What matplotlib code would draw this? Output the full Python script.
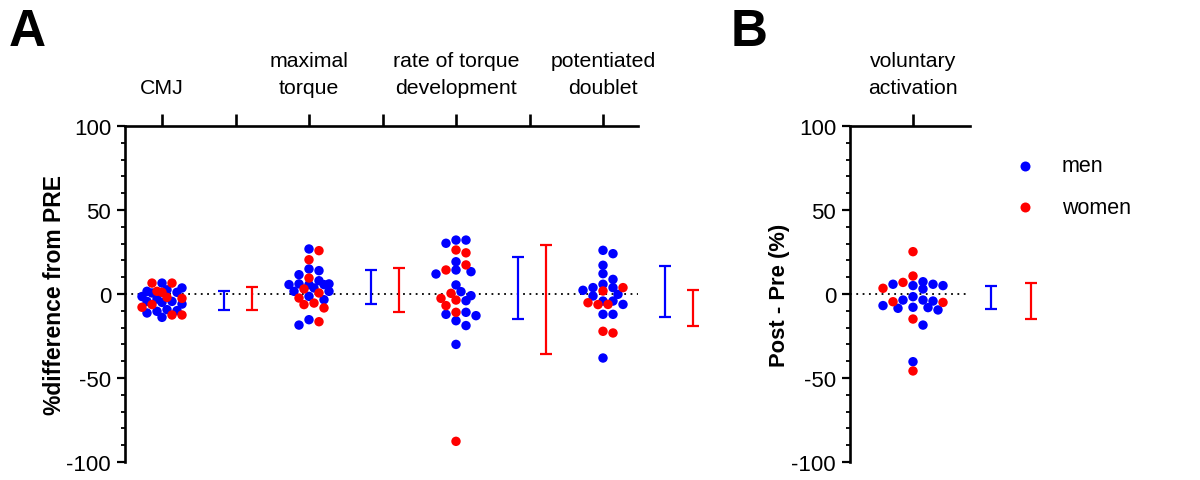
import matplotlib
matplotlib.use('Agg')
import matplotlib.pyplot as plt
from matplotlib.lines import Line2D
import numpy as np

plt.rcParams['font.family'] = ['Liberation Sans', 'DejaVu Sans']
plt.rcParams['axes.unicode_minus'] = False

# ---------------- data ----------------
categories = ['CMJ', 'maximal\ntorque', 'rate of torque\ndevelopment', 'potentiated\ndoublet']
category_b = ['voluntary\nactivation']

men_cmj = [6.5, 3.6, 0.6, 1.0, 1.6, 2.5, -1.5, -3.0, -4.4, -5.0, -4.4, -6.0, -9.3, -10.3, -9.9, -11.3, -13.9]
women_cmj = [6.5, 6.5, 1.6, 1.0, -2.6, -2.0, -6.3, -7.9, -12.5, -12.5]

men_mt = [26.8, 13.9, 14.9, 11.5, 5.6, 5.6, 6.0, 6.0, 5.6, 7.9, 1.6, 3.6, 1.6, -3.4, -1.4, -15.3, -18.5]
women_mt = [25.8, 20.4, 9.5, 3.0, 0.6, -6.3, -8.3, -5.4, -2.4, -16.5]

men_rtd = [32.1, 30.2, 32.1, 19.2, 11.9, 13.3, 14.3, 5.4, 1.4, -1.0, -4.0, -12.9, -12.1, -10.9, -15.9, -18.8, -30.0]
women_rtd = [26.2, 24.5, 17.3, 14.3, 0.4, -2.6, -3.6, -6.9, -10.9, -87.7]

men_pd = [26.0, 24.0, 17.1, 12.1, 8.7, 5.8, 3.8, 3.8, 2.2, -1.2, -0.2, -4.2, -4.2, -6.2, -12.1, -12.1, -38.1]
women_pd = [1.8, 3.8, -6.2, -5.2, -6.3, -22.2, -23.2]

men_va = [7.3, 5.8, 5.0, 5.0, 3.0, 5.8, -1.6, -3.6, -3.6, -4.2, -6.9, -8.1, -9.5, -8.5, -7.9, -18.5, -40.3]
women_va = [25.2, 10.7, 6.9, 3.4, -4.6, -5.0, -14.9, -45.8]

# mean and SD shown by the error bars
men_mean = [-3.7, 4.25, 3.75, 1.6]
men_sd = [5.65, 10.25, 18.45, 15.1]
women_mean = [-2.55, 2.3, -3.15, -8.2]
women_sd = [6.75, 13.2, 32.55, 10.8]
men_mean_va, men_sd_va = -1.95, 6.75
women_mean_va, women_sd_va = -4.15, 10.85

yticks = [-100, -50, 0, 50, 100]

# ---------------- layout ----------------
W, H = 1200, 481
PX_X = 147.0      # pixels per category unit
PX_Y = 1.68       # pixels per % unit
BLUE = '#0000FF'
RED = '#FF0000'
fig = plt.figure(figsize=(W / 100, H / 100), dpi=100)


def axes_px(x0, x1, y_top, y_bot):
    return fig.add_axes([x0 / W, 1 - y_bot / H, (x1 - x0) / W, (y_bot - y_top) / H])


axA = axes_px(125, 720, 127, 463)
axB = axes_px(850, 1060, 127, 463)


def swarm(vals_m, vals_w, step=5.0, mind=8.0, maxoff=20.0):
    vals = np.concatenate([np.asarray(vals_m, float), np.asarray(vals_w, float)])
    order = np.argsort(-vals)
    placed = []
    offs = np.zeros(len(vals))
    nmax = int(maxoff / step)
    cands = [0.0] + [s * step * j for j in range(1, nmax + 1) for s in (1, -1)]
    for i in order:
        y = vals[i] * PX_Y
        best, bestd = None, -1
        for c in cands:
            d = min([np.hypot(c - px, y - py) for px, py in placed] + [1e9])
            if d >= mind:
                best = c
                break
            if d > bestd:
                best, bestd = c, d
        placed.append((best, y))
        offs[i] = best
    n = len(vals_m)
    return offs[:n] / PX_X, offs[n:] / PX_X


def style_axis(ax, xl, xr, spine_end):
    ax.set_xlim(xl, xr)
    ax.set_ylim(-100, 100)
    for s in ['bottom', 'right']:
        ax.spines[s].set_visible(False)
    ax.spines['top'].set_bounds(xl, spine_end)
    for s in ['top', 'left']:
        ax.spines[s].set_linewidth(1.9)
    ax.xaxis.set_ticks_position('top')
    ax.xaxis.set_label_position('top')
    ax.set_yticks(yticks)
    ax.set_yticks(np.arange(-100, 101, 10), minor=True)
    ax.tick_params(axis='y', which='major', length=6, width=1.6, labelsize=16, pad=4)
    ax.tick_params(axis='y', which='minor', length=3, width=1.3)
    ax.tick_params(axis='x', which='major', length=9, width=1.9, labelsize=15.3, pad=12, top=True, bottom=False)
    ax.tick_params(axis='x', which='minor', length=9, width=1.9, top=True, bottom=False)
    ax.plot([xl, spine_end], [0, 0], ls=(0, (1, 2.5)), color='black', lw=1.3, zorder=1)
    ax.patch.set_visible(False)


# ---------------- panel A ----------------
xlA = -37 / PX_X
xrA = (720 - 162) / PX_X
endA = (638 - 162) / PX_X
style_axis(axA, xlA, xrA, endA)
axA.set_xticks(range(len(categories)))
axA.set_xticklabels(categories, linespacing=1.5)
axA.set_xticks([0.5, 1.5, 2.5], minor=True)

groups = [(men_cmj, women_cmj), (men_mt, women_mt), (men_rtd, women_rtd), (men_pd, women_pd)]
for k, (m, w) in enumerate(groups):
    om, ow = swarm(m, w, maxoff=20)
    allx = np.concatenate([k + om, k + ow])
    ally = np.concatenate([m, w])
    cols = [BLUE] * len(m) + [RED] * len(w)
    axA.scatter(allx, ally, s=46, c=cols, edgecolors='none', zorder=3, clip_on=False)

off_m = 62 / PX_X
off_w = 90 / PX_X
axA.errorbar(np.arange(4) + off_m, men_mean, yerr=men_sd, fmt='none', ecolor=BLUE,
             elinewidth=1.6, capsize=4, capthick=1.6, zorder=2)
axA.errorbar(np.arange(4) + off_w, women_mean, yerr=women_sd, fmt='none', ecolor=RED,
             elinewidth=1.6, capsize=4, capthick=1.6, zorder=2)
axA.set_ylabel('%difference from PRE', fontsize=16.5, fontweight='bold', labelpad=0)

# ---------------- panel B ----------------
xlB = (850 - 913) / PX_X
xrB = (1060 - 913) / PX_X
endB = (970 - 913) / PX_X
style_axis(axB, xlB, xrB, endB)
axB.set_xticks([0])
axB.set_xticklabels(category_b, linespacing=1.5)
axB.set_xticks([], minor=True)
om, ow = swarm(men_va, women_va, mind=9.0, maxoff=30)
axB.scatter(np.concatenate([om, ow]), np.concatenate([men_va, women_va]), s=46,
            c=[BLUE] * len(men_va) + [RED] * len(women_va), edgecolors='none', zorder=3, clip_on=False)
axB.errorbar([(991 - 913) / PX_X], [men_mean_va], yerr=[men_sd_va], fmt='none', ecolor=BLUE,
             elinewidth=1.6, capsize=4, capthick=1.6)
axB.errorbar([(1031 - 913) / PX_X], [women_mean_va], yerr=[women_sd_va], fmt='none', ecolor=RED,
             elinewidth=1.6, capsize=4, capthick=1.6)
axB.set_ylabel('Post - Pre (%)', fontsize=15.8, fontweight='bold', labelpad=1)

# ---------------- legend & panel letters ----------------
for yy, col, lab in [(167, BLUE, 'men'), (208, RED, 'women')]:
    fig.add_artist(Line2D([1025 / W], [1 - yy / H], marker='o', color=col, ms=7.2,
                          markeredgewidth=0, transform=fig.transFigure))
    fig.text(1062 / W, 1 - yy / H, lab, fontsize=15.5, va='center', ha='left')

fig.text(9 / W, 1 - 33 / H, 'A', fontsize=37, fontweight='bold', va='center', ha='left')
fig.text(731 / W, 1 - 33 / H, 'B', fontsize=37, fontweight='bold', va='center', ha='left')

fig.savefig('out.png', dpi=100)
